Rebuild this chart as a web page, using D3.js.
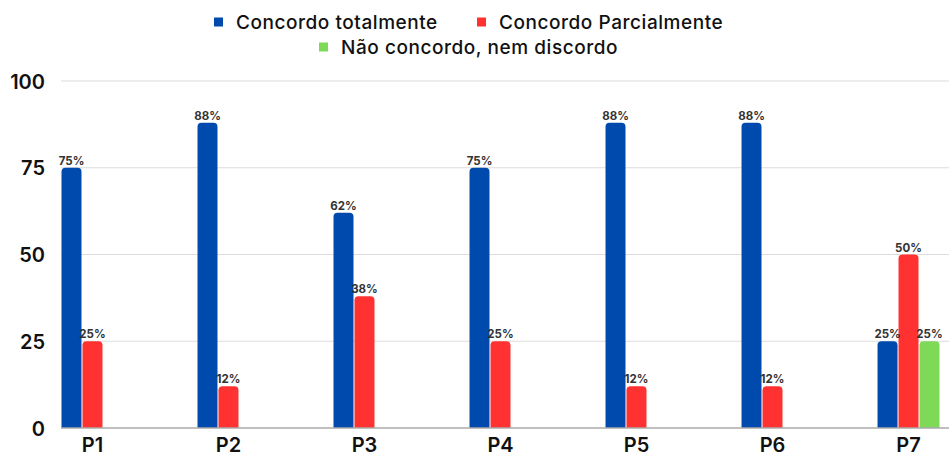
<!DOCTYPE html>
<html>
<head>
<meta charset="utf-8">
<script src="https://cdn.jsdelivr.net/npm/d3@7"></script>
<style>
  body { margin: 0; background: #fff; }
  svg { display: block; font-family: Inter, "Noto Sans", sans-serif; }
</style>
</head>
<body>
<svg class="chart"></svg>
<script>
// categories and series
var categories = ["P1", "P2", "P3", "P4", "P5", "P6", "P7"];
var seriesNames = ["Concordo totalmente", "Concordo Parcialmente", "Não concordo, nem discordo"];
var totalmente = [75, 88, 62, 75, 88, 88, 25];
var parcialmente = [25, 12, 38, 25, 12, 12, 50];
var naoConcordo = [0, 0, 0, 0, 0, 0, 25];
var yTicks = [0, 25, 50, 75, 100];
var colors = ["#004aad", "#ff3131", "#7ed957"];

var width = 949, height = 457;
var margin = {top: 81, right: 9, bottom: 29, left: 61};

var svg = d3.select(".chart")
    .attr("width", width)
    .attr("height", height);

var series = [totalmente, parcialmente, naoConcordo];

// build a table from the arrays
var table = categories.map(function (c, i) {
  return {cat: c, vals: series.map(function (s, k) { return {k: k, v: s[i]}; })};
});

var x = d3.scaleBand().domain(categories)
    .range([margin.left, 940]).paddingInner(0.537).paddingOuter(0);
var xs = d3.scaleBand().domain([0, 1, 2]).range([0, x.bandwidth()]);
var y = d3.scaleLinear().domain([0, 100]).range([height - margin.bottom, margin.top]);

// grid lines
svg.append("g").selectAll("line").data(yTicks.filter(function (t) { return t > 0; }))
  .enter().append("line")
    .attr("x1", margin.left).attr("x2", width)
    .attr("y1", function (d) { return y(d); }).attr("y2", function (d) { return y(d); })
    .attr("stroke", "#dcdcdc").attr("stroke-width", 1.2);

// y axis labels
var yAxis = d3.axisLeft(y).tickValues(yTicks).tickSize(0).tickPadding(0);
var gy = svg.append("g").attr("transform", "translate(45,0)").call(yAxis);
gy.select(".domain").remove();
gy.selectAll("text")
    .attr("font-family", "Inter, sans-serif")
    .attr("font-size", 20).attr("font-weight", 600).attr("fill", "#111")
    .attr("dy", "0.36em");

// bars
var groups = svg.append("g").selectAll("g").data(table).enter().append("g")
    .attr("transform", function (d) { return "translate(" + x(d.cat) + ",0)"; });

function barPath(x0, w, top, bottom, r) {
  r = Math.min(r, (bottom - top), w / 2);
  return "M" + x0 + "," + bottom +
    "V" + (top + r) +
    "Q" + x0 + "," + top + " " + (x0 + r) + "," + top +
    "H" + (x0 + w - r) +
    "Q" + (x0 + w) + "," + top + " " + (x0 + w) + "," + (top + r) +
    "V" + bottom + "Z";
}

groups.selectAll("path").data(function (d) { return d.vals.filter(function (v) { return v.v > 0; }); })
  .enter().append("path")
    .attr("d", function (d) {
      return barPath(xs(d.k) + 0.5, xs.bandwidth() - 1, y(d.v), y(0), 4);
    })
    .attr("fill", function (d) { return colors[d.k]; });

groups.selectAll("text").data(function (d) { return d.vals.filter(function (v) { return v.v > 0; }); })
  .enter().append("text")
    .attr("x", function (d) { return xs(d.k) + xs.bandwidth() / 2; })
    .attr("y", function (d) { return y(d.v) - 3; })
    .attr("text-anchor", "middle")
    .attr("font-size", 11.5).attr("font-weight", 700).attr("fill", "#333")
    .text(function (d) { return d.v + "%"; });

// baseline
svg.append("line")
    .attr("x1", margin.left).attr("x2", width)
    .attr("y1", y(0)).attr("y2", y(0))
    .attr("stroke", "#aaa").attr("stroke-width", 1.5);

// x axis labels
var xAxis = d3.axisBottom(x).tickSize(0).tickPadding(0);
var gx = svg.append("g").attr("transform", "translate(0," + (y(0) + 10) + ")").call(xAxis);
gx.select(".domain").remove();
gx.selectAll("text")
    .attr("font-family", "Inter, sans-serif")
    .attr("font-size", 20).attr("font-weight", 600).attr("fill", "#111");

// legend
var legendPos = [
  {x: 214, y: 22},
  {x: 477, y: 22},
  {x: 319, y: 47}
];
var legend = svg.append("g").selectAll("g").data(seriesNames).enter().append("g")
    .attr("transform", function (d, i) { return "translate(" + legendPos[i].x + "," + legendPos[i].y + ")"; });
legend.append("rect")
    .attr("x", 0).attr("y", -4.5).attr("width", 9).attr("height", 9)
    .attr("fill", function (d, i) { return colors[i]; });
legend.append("text")
    .attr("x", 22).attr("dy", "0.36em")
    .attr("font-size", 19).attr("font-weight", 500).attr("fill", "#111")
    .attr("letter-spacing", 0.55)
    .text(function (d) { return d; });
</script>
</body>
</html>
